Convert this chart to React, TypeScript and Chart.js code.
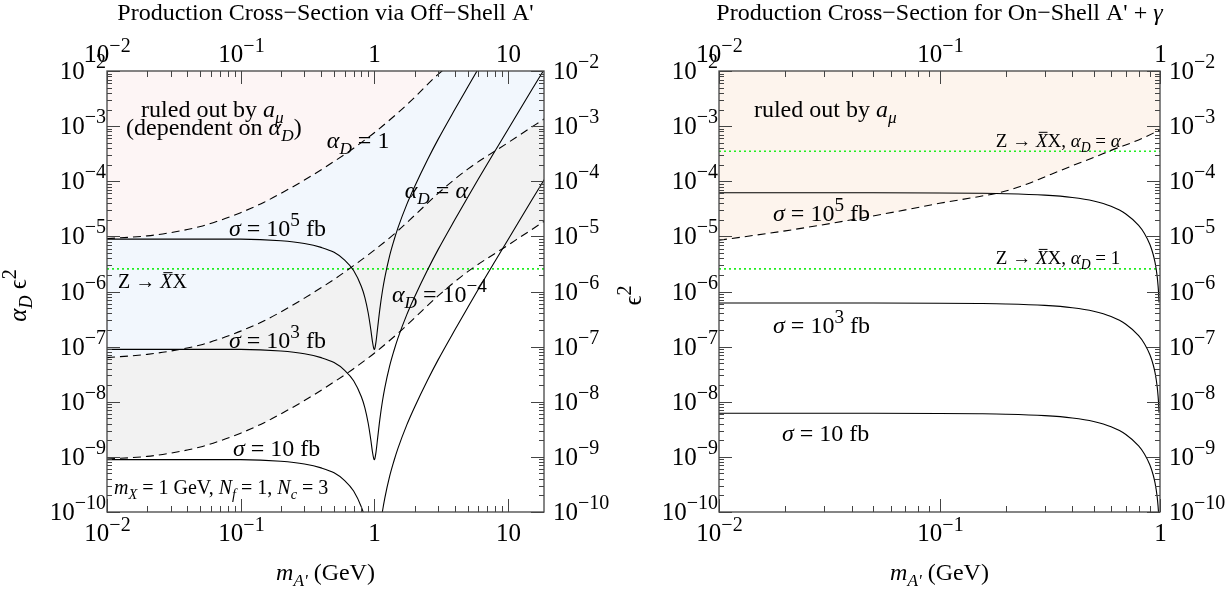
import React, { useEffect, useRef } from "react";
import { Chart, registerables } from "chart.js";

Chart.register(...registerables);

const SERIF = '"Liberation Serif", "Times New Roman", "DejaVu Serif", serif';

// ---------- Off-shell A' panel ----------
const offMass = [
  0.01, 0.03, 0.1, 0.2, 0.3, 0.4, 0.5, 0.6, 0.7, 0.8, 0.85, 0.9, 0.94, 0.97, 0.99, 1.0,
  1.01, 1.03, 1.06, 1.1, 1.15, 1.2, 1.3, 1.4, 1.5, 1.75, 2, 2.5, 3, 4, 5, 6, 8, 10, 15, 20,
];
const offSigma1e5 = [
  8.91e-6, 8.91e-6, 8.91e-6, 8.32e-6, 7.41e-6, 6.31e-6, 5.13e-6, 3.72e-6, 2.4e-6, 1.23e-6,
  7.76e-7, 4.07e-7, 2.09e-7, 1.2e-7, 9.33e-8, 8.91e-8, 9.33e-8, 1.23e-7, 2.24e-7, 4.79e-7,
  1.02e-6, 1.82e-6, 4.37e-6, 8.32e-6, 1.41e-5, 3.8e-5, 7.94e-5, 2.45e-4, 5.75e-4, 2.0e-3,
  5.13e-3, 1.1e-2, 3.55e-2, 8.71e-2, 0.447, 1.41,
];
const offSigma1e3 = [
  8.91e-8, 8.91e-8, 8.91e-8, 8.32e-8, 7.41e-8, 6.31e-8, 5.13e-8, 3.72e-8, 2.4e-8, 1.23e-8,
  7.76e-9, 4.07e-9, 2.09e-9, 1.2e-9, 9.33e-10, 8.91e-10, 9.33e-10, 1.23e-9, 2.24e-9, 4.79e-9,
  1.02e-8, 1.82e-8, 4.37e-8, 8.32e-8, 1.41e-7, 3.8e-7, 7.94e-7, 2.45e-6, 5.75e-6, 2.0e-5,
  5.13e-5, 1.1e-4, 3.55e-4, 8.71e-4, 4.47e-3, 1.41e-2,
];
const offSigma10 = [
  8.91e-10, 8.91e-10, 8.91e-10, 8.32e-10, 7.41e-10, 6.31e-10, 5.13e-10, 3.72e-10, 2.4e-10, 1.23e-10,
  7.76e-11, 4.07e-11, 2.09e-11, 1.2e-11, 9.33e-12, 8.91e-12, 9.33e-12, 1.23e-11, 2.24e-11, 4.79e-11,
  1.02e-10, 1.82e-10, 4.37e-10, 8.32e-10, 1.41e-9, 3.8e-9, 7.94e-9, 2.45e-8, 5.75e-8, 2.0e-7,
  5.13e-7, 1.1e-6, 3.55e-6, 8.71e-6, 4.47e-5, 1.41e-4,
];

// a_mu exclusion boundary for three dark couplings
const boundMass = [0.01, 0.02, 0.03, 0.05, 0.07, 0.1, 0.15, 0.2, 0.3, 0.5, 0.7, 1.0, 1.5, 2.0, 3.0, 5.0, 10, 20];
const boundAlphaD1 = [
  9.12e-6, 1.02e-5, 1.17e-5, 1.51e-5, 1.95e-5, 2.69e-5, 4.17e-5, 6.03e-5, 1.05e-4, 2.29e-4,
  3.98e-4, 7.59e-4, 1.74e-3, 3.31e-3, 8.71e-3, 2.29e-2, 6.92e-2, 0.209,
];
const boundAlphaDAlpha = [
  6.31e-8, 7.24e-8, 8.32e-8, 1.07e-7, 1.38e-7, 1.91e-7, 2.95e-7, 4.27e-7, 7.59e-7, 1.66e-6,
  2.95e-6, 5.62e-6, 1.26e-5, 2.4e-5, 6.03e-5, 1.66e-4, 5.01e-4, 1.51e-3,
];
const boundAlphaD1e4 = [
  9.12e-10, 1.02e-9, 1.17e-9, 1.51e-9, 1.95e-9, 2.69e-9, 4.17e-9, 6.03e-9, 1.05e-8, 2.29e-8,
  3.98e-8, 7.59e-8, 1.74e-7, 3.31e-7, 8.32e-7, 2.29e-6, 6.92e-6, 2.09e-5,
];
const offZWidth = 2.57e-6;
const offRange = [0.01, 18.6];

// ---------- On-shell A' + gamma panel ----------
const onMass = [
  0.01, 0.05, 0.1, 0.15, 0.2, 0.3, 0.4, 0.5, 0.6, 0.7, 0.8, 0.85, 0.9, 0.93, 0.95, 0.97, 0.98, 0.985, 0.99,
];
const onSigma1e5 = [
  6.2e-5, 6.19e-5, 6.14e-5, 6.06e-5, 5.95e-5, 5.59e-5, 5.07e-5, 4.38e-5, 3.51e-5, 2.55e-5,
  1.58e-5, 1.13e-5, 7.12e-6, 4.79e-6, 3.33e-6, 1.94e-6, 1.28e-6, 9.52e-7, 6.34e-7,
];
const onSigma1e3 = [
  6.2e-7, 6.19e-7, 6.14e-7, 6.06e-7, 5.95e-7, 5.59e-7, 5.07e-7, 4.38e-7, 3.51e-7, 2.55e-7,
  1.58e-7, 1.13e-7, 7.12e-8, 4.79e-8, 3.33e-8, 1.94e-8, 1.28e-8, 9.52e-9, 6.34e-9,
];
const onSigma10 = [
  6.2e-9, 6.19e-9, 6.14e-9, 6.06e-9, 5.95e-9, 5.59e-9, 5.07e-9, 4.38e-9, 3.51e-9, 2.55e-9,
  1.58e-9, 1.13e-9, 7.12e-10, 4.79e-10, 3.33e-10, 1.94e-10, 1.28e-10, 9.52e-11, 6.34e-11,
];
const onBoundMass = [0.01, 0.02, 0.04, 0.07, 0.1, 0.15, 0.19, 0.25, 0.3, 0.4, 0.5, 0.6, 0.8, 1.0];
const onBound = [
  8.51e-6, 1.26e-5, 2.0e-5, 3.02e-5, 3.98e-5, 5.25e-5, 6.31e-5, 8.91e-5, 1.2e-4, 1.91e-4,
  2.69e-4, 3.63e-4, 5.62e-4, 8.51e-4,
];
const onZAlpha = 3.5e-4;
const onZOne = 2.57e-6;
const onRange = [0.01, 1];

const yRange = [1e-10, 1e-2];

// ---------- rich text helpers ----------
type Seg = { t: string; it?: boolean; sub?: boolean; sup?: boolean; bar?: boolean };
type Note = { x: number; y: number; size: number; segs: Seg[] };

const aD: Seg[] = [{ t: "α", it: true }, { t: "D", it: true, sub: true }];
const XbarX: Seg[] = [{ t: "Z → " }, { t: "X", it: true, bar: true }, { t: "X" }];
const sigmaLabel = (p: string | null): Seg[] =>
  p
    ? [{ t: "σ", it: true }, { t: " = 10" }, { t: p, sup: true }, { t: " fb" }]
    : [{ t: "σ", it: true }, { t: " = 10 fb" }];

function segFont(size: number, s: Seg) {
  const sz = s.sub ? size * 0.72 : s.sup ? size * 0.8 : size;
  return `${s.it ? "italic " : ""}${sz}px ${SERIF}`;
}
function richWidth(ctx: CanvasRenderingContext2D, segs: Seg[], size: number) {
  let w = 0;
  for (const s of segs) {
    ctx.font = segFont(size, s);
    w += ctx.measureText(s.t).width;
  }
  return w;
}
function drawRich(
  ctx: CanvasRenderingContext2D,
  segs: Seg[],
  x: number,
  y: number,
  size: number,
  align: "left" | "center" | "right" = "left"
) {
  const w = richWidth(ctx, segs, size);
  let cx = align === "center" ? x - w / 2 : align === "right" ? x - w : x;
  ctx.textAlign = "left";
  ctx.textBaseline = "alphabetic";
  for (const s of segs) {
    ctx.font = segFont(size, s);
    const dy = s.sub ? size * 0.24 : s.sup ? -size * 0.42 : 0;
    ctx.fillText(s.t, cx, y + dy);
    const sw = ctx.measureText(s.t).width;
    if (s.bar) ctx.fillRect(cx + sw * 0.25, y - size * 0.8, sw * 0.75, Math.max(1, size * 0.05));
    cx += sw;
  }
}
function powSegs(e: number): Seg[] {
  if (e === 0) return [{ t: "1" }];
  if (e === 1) return [{ t: "10" }];
  return [{ t: "10" }, { t: (e < 0 ? "−" : "") + Math.abs(e), sup: true }];
}
function logTicks(min: number, max: number) {
  const out: { v: number; major: boolean; e: number }[] = [];
  for (let e = Math.floor(Math.log10(min)); e <= Math.ceil(Math.log10(max)); e++) {
    for (let m = 1; m < 10; m++) {
      const v = m * Math.pow(10, e);
      if (v >= min * 0.9999 && v <= max * 1.0001) out.push({ v, major: m === 1, e });
    }
  }
  return out;
}

type PanelText = { title: Seg[]; yTitle: Seg[]; notes: Note[] };

function framePlugin(txt: PanelText) {
  return {
    id: "frameText",
    afterDatasetsDraw(chart: any) {
      const ctx: CanvasRenderingContext2D = chart.ctx;
      const xs = chart.scales.x;
      const ys = chart.scales.y;
      const { left, right, top, bottom } = chart.chartArea;
      const FS = 25;
      ctx.save();
      ctx.strokeStyle = "#444";
      ctx.fillStyle = "#000";
      ctx.lineWidth = 1;
      const seg = (x1: number, y1: number, x2: number, y2: number) => {
        ctx.beginPath();
        ctx.moveTo(x1, y1);
        ctx.lineTo(x2, y2);
        ctx.stroke();
      };
      // ticks on all four sides, pointing inward
      for (const t of logTicks(xs.min, xs.max)) {
        const px = Math.round(xs.getPixelForValue(t.v)) + 0.5;
        const len = t.major ? 13 : 6;
        seg(px, bottom, px, bottom - len);
        seg(px, top, px, top + len);
        if (t.major) {
          drawRich(ctx, powSegs(t.e), px, bottom + 29, FS, "center");
          drawRich(ctx, powSegs(t.e), px, top - 9, FS, "center");
        }
      }
      for (const t of logTicks(ys.min, ys.max)) {
        const py = Math.round(ys.getPixelForValue(t.v)) + 0.5;
        const len = t.major ? 13 : 5;
        seg(left, py, left + len, py);
        seg(right, py, right - len, py);
        if (t.major) {
          drawRich(ctx, powSegs(t.e), left - 1, py + 7, FS, "right");
          drawRich(ctx, powSegs(t.e), right + 9, py + 7, FS, "left");
        }
      }
      ctx.lineWidth = 1.3;
      ctx.strokeRect(left, top, right - left, bottom - top);

      // titles
      const cx = (left + right) / 2;
      drawRich(ctx, txt.title, cx, 20, 24, "center");
      drawRich(ctx, [{ t: "m", it: true }, { t: "A'", it: true, sub: true }, { t: " (GeV)" }], cx, 580, 24, "center");
      ctx.save();
      ctx.translate(26, (top + bottom) / 2 + 4);
      ctx.rotate(-Math.PI / 2);
      drawRich(ctx, txt.yTitle, 0, 0, FS, "center");
      ctx.restore();

      // annotations in data coordinates
      for (const n of txt.notes) {
        drawRich(ctx, n.segs, xs.getPixelForValue(n.x), ys.getPixelForValue(n.y), n.size, "left");
      }
      ctx.restore();
    },
  };
}

const pts = (xs: number[], ys: number[]) => xs.map((x, i) => ({ x, y: ys[i] }));

const solid = { borderColor: "#000", borderWidth: 1.1, pointRadius: 0, cubicInterpolationMode: "monotone", fill: false };
const dashed = { ...solid, borderDash: [8, 5] };
const greenDots = { borderColor: "#22ee22", borderWidth: 1.6, borderDash: [2, 3], pointRadius: 0, fill: false };

function baseOptions(xRange: number[], pad: { left: number; right: number }) {
  return {
    responsive: false,
    animation: false,
    devicePixelRatio: 1,
    layout: { padding: { left: pad.left, right: pad.right, top: 71, bottom: 84 } },
    scales: {
      x: { type: "logarithmic", min: xRange[0], max: xRange[1], display: false },
      y: { type: "logarithmic", min: yRange[0], max: yRange[1], display: false },
    },
    plugins: {
      legend: { display: false },
      tooltip: { enabled: false },
      filler: { propagate: false, drawTime: "beforeDatasetsDraw" },
    },
  };
}

const ruledOut: Seg[] = [{ t: "ruled out by " }, { t: "a", it: true }, { t: "μ", it: true, sub: true }];

function offShellConfig(): any {
  return {
    type: "line",
    data: {
      datasets: [
        { ...dashed, data: pts(boundMass, boundAlphaD1), fill: "end", backgroundColor: "#fdf5f5" },
        { ...dashed, data: pts(boundMass, boundAlphaDAlpha), fill: { target: 0 }, backgroundColor: "#f2f7fd" },
        { ...dashed, data: pts(boundMass, boundAlphaD1e4), fill: { target: 1 }, backgroundColor: "#f2f2f2" },
        { ...solid, data: pts(offMass, offSigma1e5) },
        { ...solid, data: pts(offMass, offSigma1e3) },
        { ...solid, data: pts(offMass, offSigma10) },
        { ...greenDots, data: pts(offRange, [offZWidth, offZWidth]) },
      ],
    },
    options: baseOptions(offRange, { left: 107, right: 71 }),
    plugins: [
      framePlugin({
        title: [{ t: "Production Cross−Section via Off−Shell A'" }],
        yTitle: [...aD, { t: " ϵ" }, { t: "2", sup: true }],
        notes: [
          { x: 0.018, y: 1.46e-3, size: 24, segs: ruledOut },
          { x: 0.01387, y: 6.9e-4, size: 24, segs: [{ t: "(dependent on " }, ...aD, { t: ")" }] },
          { x: 0.441, y: 4.0e-4, size: 24, segs: [...aD, { t: " = 1" }] },
          { x: 1.69, y: 4.95e-5, size: 24, segs: [...aD, { t: " = " }, { t: "α", it: true }] },
          { x: 0.0818, y: 1.01e-5, size: 24, segs: sigmaLabel("5") },
          { x: 0.0121, y: 1.15e-6, size: 20, segs: XbarX },
          { x: 1.354, y: 6.43e-7, size: 24, segs: [...aD, { t: " = 10" }, { t: "−4", sup: true }] },
          { x: 0.0818, y: 9.4e-8, size: 24, segs: sigmaLabel("3") },
          { x: 0.0876, y: 1.03e-9, size: 24, segs: sigmaLabel(null) },
          {
            x: 0.01128,
            y: 2.1e-10,
            size: 20,
            segs: [
              { t: "m", it: true }, { t: "X", it: true, sub: true }, { t: " = 1 GeV, " },
              { t: "N", it: true }, { t: "f", it: true, sub: true }, { t: " = 1, " },
              { t: "N", it: true }, { t: "c", it: true, sub: true }, { t: " = 3" },
            ],
          },
        ],
      }),
    ],
  };
}

function onShellConfig(): any {
  return {
    type: "line",
    data: {
      datasets: [
        { ...dashed, data: pts(onBoundMass, onBound), fill: "end", backgroundColor: "#fdf4ed" },
        { ...solid, data: pts(onMass, onSigma1e5) },
        { ...solid, data: pts(onMass, onSigma1e3) },
        { ...solid, data: pts(onMass, onSigma10) },
        { ...greenDots, data: pts(onRange, [onZAlpha, onZAlpha]) },
        { ...greenDots, data: pts(onRange, [onZOne, onZOne]) },
      ],
    },
    options: baseOptions(onRange, { left: 104, right: 70 }),
    plugins: [
      framePlugin({
        title: [{ t: "Production Cross−Section for On−Shell A' + " }, { t: "γ", it: true }],
        yTitle: [{ t: "ϵ" }, { t: "2", sup: true }],
        notes: [
          { x: 0.0144, y: 1.46e-3, size: 24, segs: ruledOut },
          { x: 0.18, y: 4.18e-4, size: 19, segs: [...XbarX, { t: ", " }, ...aD, { t: " = " }, { t: "α", it: true }] },
          { x: 0.01758, y: 1.9e-5, size: 24, segs: sigmaLabel("5") },
          { x: 0.18, y: 3.14e-6, size: 19, segs: [...XbarX, { t: ", " }, ...aD, { t: " = 1" }] },
          { x: 0.01758, y: 1.76e-7, size: 24, segs: sigmaLabel("3") },
          { x: 0.0193, y: 1.93e-9, size: 24, segs: sigmaLabel(null) },
        ],
      }),
    ],
  };
}

function Panel({ make, left }: { make: () => any; left: number }) {
  const ref = useRef<HTMLCanvasElement>(null);
  useEffect(() => {
    const chart = new Chart(ref.current as HTMLCanvasElement, make());
    return () => chart.destroy();
  }, []);
  return (
    <canvas
      ref={ref}
      width={615}
      height={596}
      style={{ position: "absolute", left, top: 0, width: 615, height: 596 }}
    />
  );
}

export default function App() {
  return (
    <div style={{ position: "fixed", left: 0, top: 0, width: 1230, height: 596, background: "#fff", overflow: "hidden" }}>
      <Panel make={offShellConfig} left={0} />
      <Panel make={onShellConfig} left={615} />
    </div>
  );
}
